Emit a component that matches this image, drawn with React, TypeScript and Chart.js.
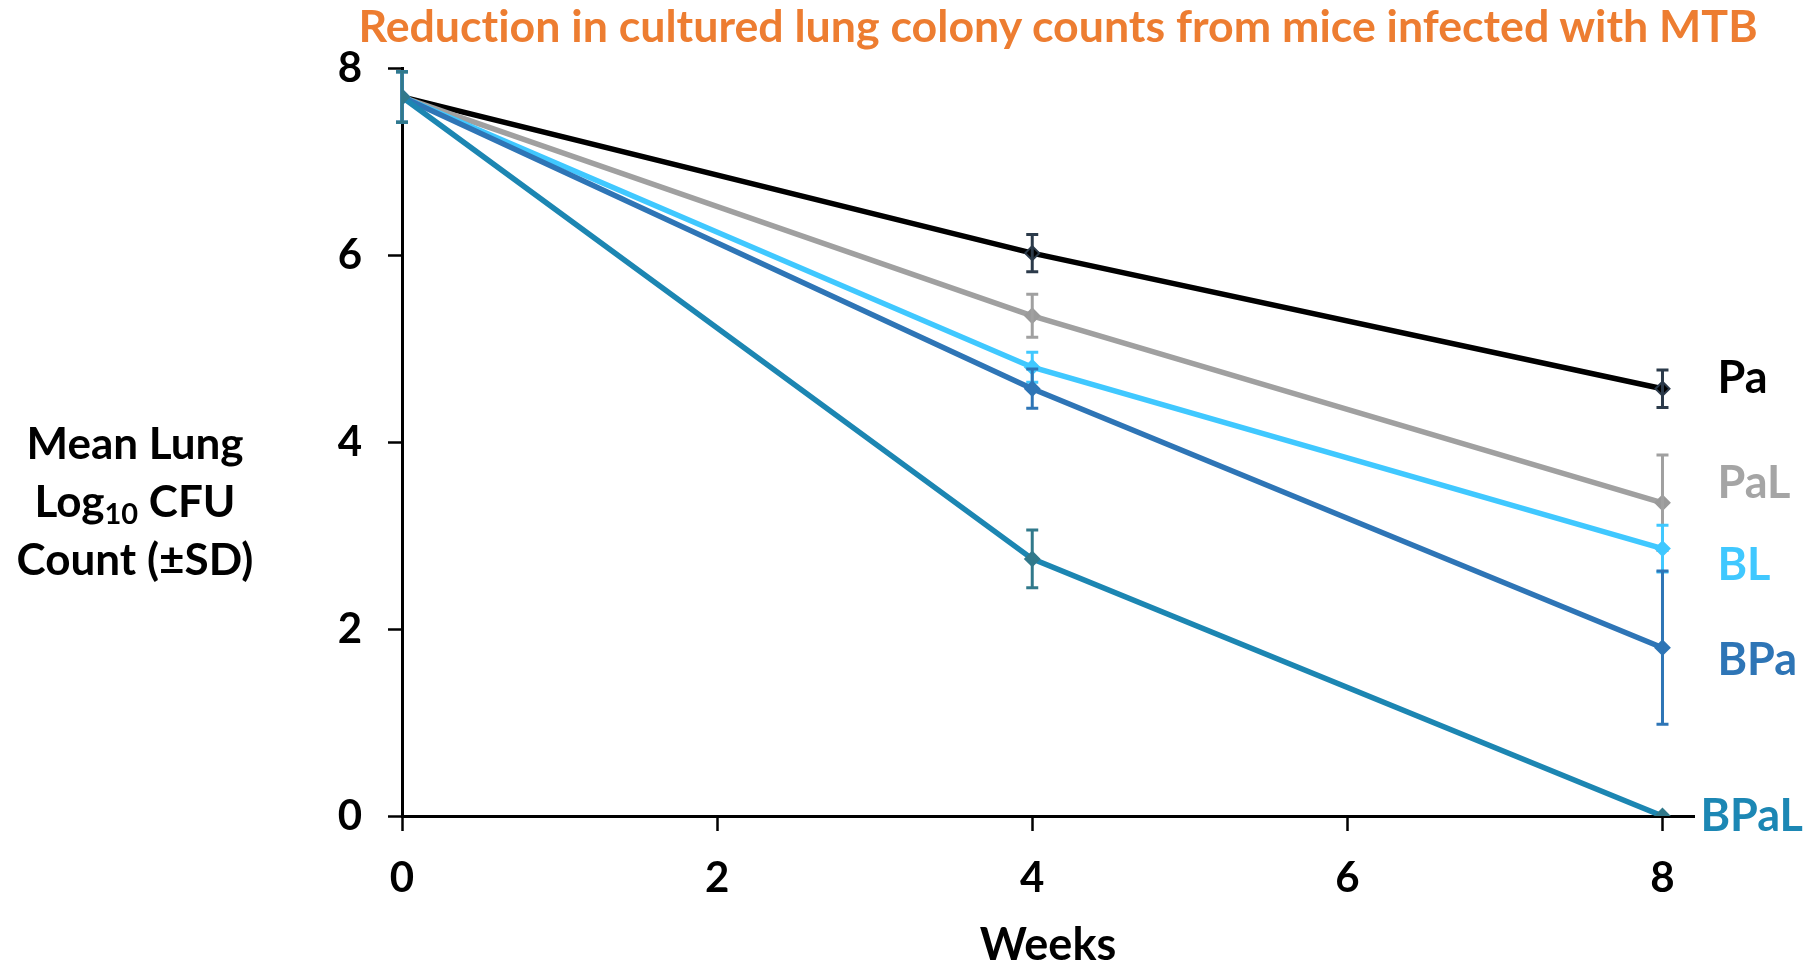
import React, { useEffect, useRef } from "react";
import { Chart, registerables } from "chart.js";

Chart.register(...registerables);

const TITLE = "Reduction in cultured lung colony counts from mice infected with MTB";
const X_TITLE = "Weeks";
const weeks = [0, 4, 8];
const seriesNames = ["Pa", "PaL", "BL", "BPa", "BPaL"];
const paValues = [7.69, 6.02, 4.57];
const paSD = [0.27, 0.2, 0.2];
const palValues = [7.69, 5.35, 3.35];
const palSD = [0.27, 0.23, 0.51];
const blValues = [7.69, 4.8, 2.86];
const blSD = [0.27, 0.16, 0.25];
const bpaValues = [7.69, 4.57, 1.8];
const bpaSD = [0.27, 0.21, 0.82];
const bpalValues = [7.69, 2.75, 0];
const bpalSD = [0.27, 0.31, 0];
const xTicks = [0, 2, 4, 6, 8];

// styling (not data)
const lineColors = ["#000000", "#A0A0A0", "#40C8FF", "#2E75B6", "#1C86B2"];
const markerFill = ["#000000", "#9A9A9A", "#40C8FF", "#2E75B6", "#31798B"];
const markerBorder = ["#2B3A4A", "#9A9A9A", "#40C8FF", "#2E75B6", "#31798B"];
const errColors = ["#2B3A4A", "#A0A0A0", "#40C8FF", "#2E75B6", "#31798B"];
const labelColors = ["#000000", "#A5A5A5", "#40C8FF", "#2E75B6", "#1C87B4"];
const labelAnchorY = [4.68, 3.56, 2.68, 1.66, 0];
const labelOffsetX = [55, 55, 55, 55, 38];

const FONT = "Lato, 'Open Sans', sans-serif";

const errorBarPlugin = {
  id: "errorBars",
  afterDatasetDraw(chart: any, args: any) {
    const ds = chart.data.datasets[args.index] as any;
    const sd: number[] = ds.sd;
    if (!sd) return;
    const xs = chart.scales.x;
    const ys = chart.scales.y;
    const ctx = chart.ctx;
    ctx.save();
    ctx.strokeStyle = ds.errColor;
    ctx.lineWidth = 3;
    ctx.lineCap = "butt";
    ds.data.forEach((p: any, i: number) => {
      const s = sd[i];
      if (!s) return;
      const px = xs.getPixelForValue(p.x);
      const top = ys.getPixelForValue(p.y + s);
      const bot = ys.getPixelForValue(p.y - s);
      ctx.beginPath();
      ctx.moveTo(px, top);
      ctx.lineTo(px, bot);
      ctx.moveTo(px - 6, top);
      ctx.lineTo(px + 6, top);
      ctx.moveTo(px - 6, bot);
      ctx.lineTo(px + 6, bot);
      ctx.stroke();
    });
    ctx.restore();
  },
};

const seriesLabelPlugin = {
  id: "seriesLabels",
  afterDraw(chart: any) {
    const xs = chart.scales.x;
    const ys = chart.scales.y;
    const ctx = chart.ctx;
    ctx.save();
    ctx.font = `bold 45px ${FONT}`;
    ctx.textAlign = "left";
    ctx.textBaseline = "middle";
    seriesNames.forEach((name, i) => {
      ctx.fillStyle = labelColors[i];
      const x = xs.getPixelForValue(weeks[weeks.length - 1]) + labelOffsetX[i];
      const y = ys.getPixelForValue(labelAnchorY[i]);
      ctx.fillText(name, x, y);
    });
    ctx.restore();
  },
};

export default function App() {
  const canvasRef = useRef<HTMLCanvasElement | null>(null);

  useEffect(() => {
    let chart: Chart | null = null;
    let cancelled = false;
    const make = () => {
      if (cancelled || !canvasRef.current) return;
      const allValues = [paValues, palValues, blValues, bpaValues, bpalValues];
      const allSD = [paSD, palSD, blSD, bpaSD, bpalSD];
      const datasets = seriesNames.map((name, i) => ({
        label: name,
        data: weeks.map((w, j) => ({ x: w, y: allValues[i][j] })),
        sd: allSD[i],
        errColor: errColors[i],
        borderColor: lineColors[i],
        borderWidth: 5.5,
        backgroundColor: markerFill[i],
        pointStyle: "rectRot",
        pointRadius: 7,
        pointBorderWidth: 2,
        pointBackgroundColor: markerFill[i],
        pointBorderColor: markerBorder[i],
        tension: 0,
        fill: false,
        order: seriesNames.length - i,
      }));
      chart = new Chart(canvasRef.current, {
        type: "line",
        data: { datasets: datasets as any },
        options: {
          responsive: false,
          animation: false,
          events: [],
          layout: { padding: { left: 0, right: 117, top: 68, bottom: 0 } },
          plugins: {
            legend: { display: false },
            tooltip: { enabled: false },
            title: { display: false },
          },
          scales: {
            x: {
              type: "linear",
              min: 0,
              max: 8.2,
              afterBuildTicks: (scale: any) => {
                scale.ticks = xTicks.map((v) => ({ value: v }));
              },
              afterFit: (scale: any) => {
                scale.height = 149;
              },
              ticks: {
                color: "#000",
                font: { family: FONT, size: 42, weight: "bold" },
                padding: 22,
                maxRotation: 0,
              },
              grid: {
                display: true,
                drawOnChartArea: false,
                drawTicks: true,
                tickLength: 15,
                tickWidth: 2.5,
                tickColor: "#000",
                color: "#000",
              },
              border: { display: true, color: "#000", width: 3 },
              title: {
                display: true,
                text: X_TITLE,
                color: "#000",
                font: { family: FONT, size: 45, weight: "bold", lineHeight: 0.85 },
                padding: { top: 0, bottom: 0 },
              },
            },
            y: {
              type: "linear",
              min: 0,
              max: 8,
              afterFit: (scale: any) => {
                scale.width = 402;
              },
              ticks: {
                stepSize: 2,
                color: "#000",
                font: { family: FONT, size: 42, weight: "bold" },
                padding: 26,
              },
              grid: {
                display: true,
                drawOnChartArea: false,
                drawTicks: true,
                tickLength: 14,
                tickWidth: 2.5,
                tickColor: "#000",
                color: "#000",
              },
              border: { display: true, color: "#000", width: 3 },
            },
          },
        },
        plugins: [errorBarPlugin, seriesLabelPlugin],
      });
    };
    const fontsReady = (document as any).fonts
      ? Promise.all([
          (document as any).fonts.load(`bold 40px Lato`),
        ]).catch(() => null)
      : Promise.resolve(null);
    fontsReady.then(make);
    return () => {
      cancelled = true;
      if (chart) chart.destroy();
    };
  }, []);

  return (
    <div
      style={{
        position: "absolute",
        left: 0,
        top: 0,
        width: 1811,
        height: 965,
        background: "#fff",
        overflow: "hidden",
      }}
    >
      <canvas ref={canvasRef} width={1811} height={965} style={{ display: "block" }} />
      <div
        style={{
          position: "absolute",
          left: 1058 - 800,
          width: 1600,
          top: -1,
          textAlign: "center",
          fontFamily: FONT,
          fontWeight: "bold",
          fontSize: 44.7,
          lineHeight: "52px",
          color: "#ED7D31",
          whiteSpace: "nowrap",
          fontVariantLigatures: "none",
        }}
      >
        {TITLE}
      </div>
      <div
        style={{
          position: "absolute",
          left: 0,
          width: 270,
          top: 413,
          textAlign: "center",
          fontFamily: FONT,
          fontWeight: "bold",
          fontSize: 44,
          lineHeight: "58px",
          color: "#000",
        }}
      >
        Mean Lung
        <br />
        Log<sub style={{ fontSize: 29, lineHeight: 0, verticalAlign: "-0.25em" }}>10</sub> CFU
        <br />
        Count (±SD)
      </div>
    </div>
  );
}
